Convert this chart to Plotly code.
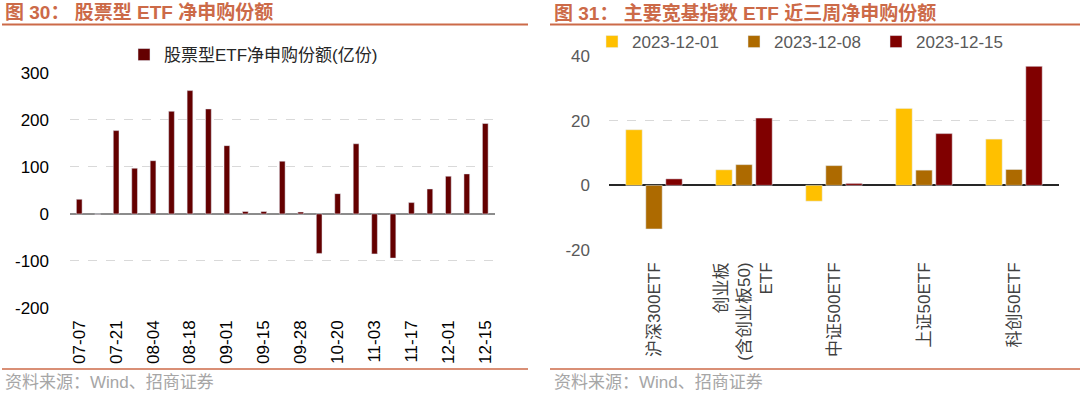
import plotly.graph_objects as go

# Left chart data
weeks = ["07-07", "07-14", "07-21", "07-28", "08-04", "08-11", "08-18", "08-25",
         "09-01", "09-08", "09-15", "09-22", "09-28", "10-13", "10-20", "10-27",
         "11-03", "11-10", "11-17", "11-24", "12-01", "12-08", "12-15"]
net_sub = [31, -1, 177, 97, 113, 218, 262, 223, 145, 5, 5, 112, 4, -84, 43, 149,
           -85, -94, 24, 53, 80, 85, 192]
left_ticks = weeks[::2]
left_yticks = [-200, -100, 0, 100, 200, 300]

# Right chart data
etf_names = ["沪深300ETF", "创业板<br>(含创业板50)<br>ETF", "中证500ETF", "上证50ETF", "科创50ETF"]
series_names = ["2023-12-01", "2023-12-08", "2023-12-15"]
v_1201 = [17.2, 4.8, -4.9, 23.8, 14.3]
v_1208 = [-13.5, 6.4, 6.1, 4.7, 4.9]
v_1215 = [2.0, 20.8, 0.6, 16.0, 36.8]
series_vals = [v_1201, v_1208, v_1215]
series_colors = ["#FFC000", "#AD6A00", "#800000"]
right_yticks = [-20, 0, 20, 40]

FONT = "Arial, 'Liberation Sans', 'Noto Sans CJK SC', sans-serif"
TITLE_COLOR = "#CC6A48"
W, H = 1080, 393

def px_x(x):
    return x / W

def px_y(y):
    return 1 - y / H

fig = go.Figure()

fig.add_trace(go.Bar(
    x=weeks, y=net_sub, name="股票型ETF净申购份额(亿份)",
    marker=dict(color="#640000"), width=0.31, showlegend=True,
    xaxis="x", yaxis="y", legend="legend",
))

for name, vals, col in zip(series_names, series_vals, series_colors):
    fig.add_trace(go.Bar(
        x=etf_names, y=vals, name=name, marker=dict(color=col), showlegend=True,
        xaxis="x2", yaxis="y2", legend="legend2",
    ))

grid = dict(showgrid=True, gridcolor="#D9D9D9", griddash="dash", gridwidth=1)

fig.update_layout(
    width=W, height=H, autosize=False, showlegend=True,
    margin=dict(l=0, r=0, t=0, b=0, pad=0, autoexpand=False),
    paper_bgcolor="white", plot_bgcolor="white",
    font=dict(family=FONT, size=16, color="#000000"),
    barmode="group", bargap=0.333, bargroupgap=0.18,
    xaxis=dict(domain=[px_x(70), px_x(494.5)], anchor="y", type="category",
               automargin=False, ticklabelstandoff=8,
               tickmode="array", tickvals=left_ticks, ticktext=left_ticks,
               tickangle=-90, showline=False, ticks="", showgrid=False,
               tickfont=dict(size=17, color="#000000")),
    yaxis=dict(domain=[px_y(308), px_y(72.7)], anchor="x", automargin=False,
               range=[-200, 300], tickmode="array", tickvals=left_yticks,
               ticktext=[str(v) for v in left_yticks], ticklabelstandoff=20,
               zeroline=True, zerolinecolor="#8C8C8C", zerolinewidth=1.5,
               ticks="", tickfont=dict(size=17, color="#000000"), **grid),
    xaxis2=dict(domain=[px_x(609), px_x(1059)], anchor="y2", type="category",
                automargin=False, ticklabelstandoff=8,
                tickangle=-90, showline=False, ticks="", showgrid=False,
                tickfont=dict(size=17, color="#404040")),
    yaxis2=dict(domain=[px_y(250), px_y(56)], anchor="x2", automargin=False,
                range=[-20, 40], tickmode="array", tickvals=right_yticks,
                ticktext=[str(v) for v in right_yticks], ticklabelstandoff=18,
                zeroline=True, zerolinecolor="#262626", zerolinewidth=1.5,
                ticks="", tickfont=dict(size=17, color="#595959"), **grid),
    legend=dict(orientation="h", x=px_x(124), xanchor="left",
                y=px_y(55), yanchor="middle", itemclick=False,
                font=dict(size=17, color="#262626"), bgcolor="rgba(0,0,0,0)"),
    legend2=dict(orientation="h", x=px_x(592), xanchor="left",
                 y=px_y(42), yanchor="middle",
                 entrywidth=97, entrywidthmode="pixels",
                 font=dict(size=17, color="#595959"), bgcolor="rgba(0,0,0,0)"),
)

shapes = []
for x0, x1 in [(2, 528), (550, 1080)]:
    shapes.append(dict(type="line", xref="paper", yref="paper",
                       x0=px_x(x0), x1=px_x(x1), y0=px_y(24.5), y1=px_y(24.5),
                       line=dict(color=TITLE_COLOR, width=2)))
    shapes.append(dict(type="line", xref="paper", yref="paper",
                       x0=px_x(x0), x1=px_x(x1), y0=px_y(369), y1=px_y(369),
                       line=dict(color=TITLE_COLOR, width=1.5)))
fig.update_layout(shapes=shapes)

annots = [
    dict(text="<b>图 30： 股票型 ETF 净申购份额</b>", x=px_x(3), y=px_y(12.5)),
    dict(text="<b>图 31： 主要宽基指数 ETF 近三周净申购份额</b>", x=px_x(552), y=px_y(12.5)),
]
for a in annots:
    fig.add_annotation(xref="paper", yref="paper", xanchor="left", yanchor="middle",
                       showarrow=False, font=dict(size=19, color=TITLE_COLOR, family=FONT), **a)
for xx in [3, 552]:
    fig.add_annotation(xref="paper", yref="paper", xanchor="left", yanchor="middle",
                       x=px_x(xx), y=px_y(382), showarrow=False,
                       text="资料来源：Wind、招商证券",
                       font=dict(size=17, color="#A6A6A6", family=FONT))

fig.write_html("out.html", config={"displayModeBar": False},
               post_script="document.body.style.margin='0px';")
